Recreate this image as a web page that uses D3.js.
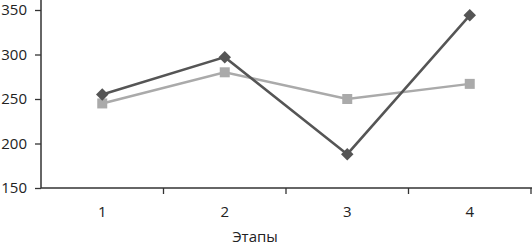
<!DOCTYPE html>
<html>
<head>
<meta charset="utf-8">
<script src="https://cdn.jsdelivr.net/npm/d3@7"></script>
<style>
  body { margin:0; background:#fff; }
  .axis text { font-family: "Open Sans", "Noto Sans", sans-serif; font-size:15px; fill:#222; }
</style>
</head>
<body>
<div id="chart"></div>
<script>
// stages and the two series
const stages = ["1", "2", "3", "4"];
const seriesDark = [255, 297, 188, 344];
const seriesLight = [245, 280, 250, 267];
const yTicks = [150, 200, 250, 300, 350];

const W = 532, H = 247;
const svg = d3.select("#chart").append("svg").attr("width", W).attr("height", H);

const x = d3.scaleBand().domain(stages).range([41, 531]);
const y = d3.scaleLinear().domain([150, 350]).range([188, 10]);

// y axis
const gy = svg.append("g").attr("class","axis").attr("transform","translate(41,0)")
  .call(d3.axisLeft(y).tickValues(yTicks).tickSize(6).tickPadding(8).tickSizeOuter(0));
gy.select(".domain").remove();
gy.selectAll(".tick line").attr("stroke","#333").attr("stroke-width",1.3);
gy.append("line").attr("x1",0).attr("x2",0).attr("y1",0).attr("y2",y(150))
  .attr("stroke","#333").attr("stroke-width",1.5);

// x axis: ticks sit between the bands
const gx = svg.append("g").attr("class","axis").attr("transform",`translate(0,${y(150)})`)
  .call(d3.axisBottom(x).tickSize(0).tickPadding(18));
gx.select(".domain").remove();
gx.append("line").attr("x1",41).attr("x2",W).attr("y1",0).attr("y2",0)
  .attr("stroke","#333").attr("stroke-width",1.5);
gx.selectAll(".sep").data(stages).enter().append("line")
  .attr("x1", d => x(d) + x.bandwidth()).attr("x2", d => x(d) + x.bandwidth())
  .attr("y1", 0).attr("y2", 6).attr("stroke","#333").attr("stroke-width",1.3);

svg.append("text").attr("x", 255).attr("y", 242).attr("text-anchor","middle")
  .style("font-family",'"Open Sans", "Noto Sans", sans-serif').style("font-size","15px").style("fill","#222")
  .text("Этапы");

const cx = d => x(d) + x.bandwidth()/2;
const line = d3.line().x((d,i) => cx(stages[i])).y(d => y(d));

// light series with squares
svg.append("path").datum(seriesLight).attr("fill","none").attr("stroke","#aaaaaa")
  .attr("stroke-width",2.5).attr("d", line);
svg.selectAll(".sq").data(seriesLight).enter().append("rect")
  .attr("x",(d,i) => cx(stages[i]) - 5).attr("y", d => y(d) - 5)
  .attr("width",10).attr("height",10).attr("fill","#aaaaaa");

// dark series with diamonds
svg.append("path").datum(seriesDark).attr("fill","none").attr("stroke","#555555")
  .attr("stroke-width",2.5).attr("d", line);
svg.selectAll(".dm").data(seriesDark).enter().append("path")
  .attr("transform",(d,i) => `translate(${cx(stages[i])},${y(d)})`)
  .attr("d", d3.symbol().type(d3.symbolDiamond2).size(100)).attr("fill","#555555");
</script>
</body>
</html>
